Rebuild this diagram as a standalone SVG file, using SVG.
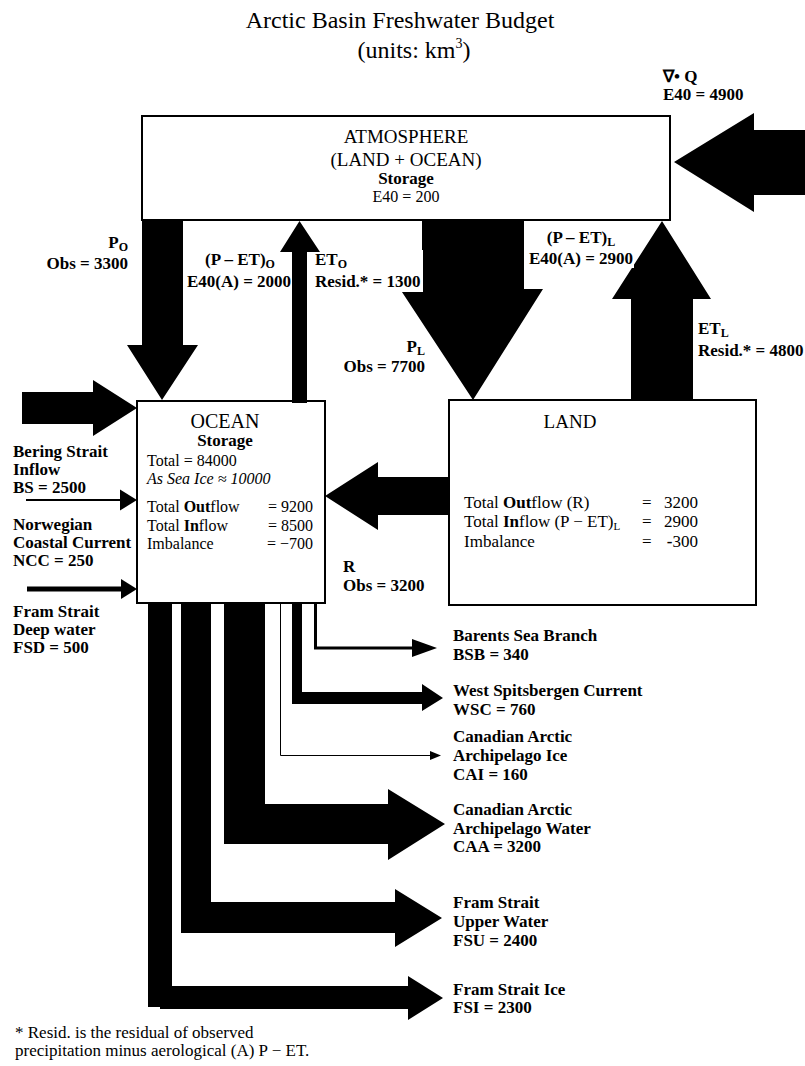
<svg xmlns="http://www.w3.org/2000/svg" width="805" height="1066" viewBox="0 0 805 1066">
<style>
.t{font-family:"Liberation Serif","Times New Roman",serif;fill:#000}
.b{font-family:"Liberation Serif","Times New Roman",serif;font-weight:bold;font-size:17px;fill:#000}
.n{font-family:"Liberation Serif","Times New Roman",serif;font-size:16px;fill:#000}
.n17{font-size:17px}
.box{fill:#fff;stroke:#000;stroke-width:2}
.ar{fill:#000;stroke:none}
.ln{fill:none;stroke:#000}
.bg{fill:#fff}
</style>
<rect width="805" height="1066" fill="#fff"/>
<g id="title">
<text class="t" x="400" y="28" font-size="24" text-anchor="middle">Arctic Basin Freshwater Budget</text>
<text class="t" x="414" y="58" font-size="24" text-anchor="middle">(units: km<tspan font-size="14" dy="-10">3</tspan><tspan dy="10">)</tspan></text>
</g>
<g id="atmosphere">
<rect class="box" x="142" y="116" width="528" height="104"/>
<text class="t" x="406" y="143" font-size="19" text-anchor="middle">ATMOSPHERE</text>
<text class="t" x="406" y="166" font-size="19" text-anchor="middle">(LAND + OCEAN)</text>
<text class="b" x="406" y="184" text-anchor="middle">Storage</text>
<text class="n" x="406" y="202" text-anchor="middle">E40 = 200</text>
</g>
<g id="ocean">
<rect class="box" x="137" y="401" width="188" height="202"/>
<text class="t" x="225" y="428" font-size="20" text-anchor="middle">OCEAN</text>
<text class="b" x="225" y="446" text-anchor="middle">Storage</text>
<text class="n" x="147" y="466">Total = 84000</text>
<text class="n" x="147" y="484" font-style="italic">As Sea Ice ≈ 10000</text>
<text class="n" x="147" y="512">Total <tspan font-weight="bold">Out</tspan>flow</text>
<text class="n" x="313" y="512" text-anchor="end">= 9200</text>
<text class="n" x="147" y="531">Total <tspan font-weight="bold">In</tspan>flow</text>
<text class="n" x="313" y="531" text-anchor="end">= 8500</text>
<text class="n" x="147" y="549">Imbalance</text>
<text class="n" x="313" y="549" text-anchor="end">= −700</text>
</g>
<g id="land">
<rect class="box" x="449" y="400" width="307" height="205"/>
<text class="t" x="570" y="428" font-size="19" text-anchor="middle">LAND</text>
<text class="n n17" x="464" y="508">Total <tspan font-weight="bold">Out</tspan>flow (R)</text>
<text class="n n17" x="642" y="508">=</text>
<text class="n n17" x="698" y="508" text-anchor="end">3200</text>
<text class="n n17" x="464" y="527">Total <tspan font-weight="bold">In</tspan>flow (P − ET)<tspan font-size="11" dy="3">L</tspan></text>
<text class="n n17" x="642" y="527">=</text>
<text class="n n17" x="698" y="527" text-anchor="end">2900</text>
<text class="n n17" x="464" y="547">Imbalance</text>
<text class="n n17" x="642" y="547">=</text>
<text class="n n17" x="698" y="547" text-anchor="end"><tspan font-weight="bold">-</tspan>300</text>
</g>
<g id="connectors">
<polygon id="arrow-PO" class="ar" points="142,220 183,220 183,345 198,345 162,400 127,345 142,345"/>
<polygon id="arrow-PL" class="ar" points="422,220 524,220 524,289 543,289 473,400 400,289 422,289"/>
<polygon id="arrow-ETL" class="ar" points="631,401 693,401 693,299 711,299 662,221 612,299 631,299"/>
<polygon id="arrow-divQ" class="ar" points="805,130 754,130 754,113 674,162 754,212 754,195 805,195"/>
<polygon id="arrow-inflow" class="ar" points="22,392 93,392 93,380 137,408 93,436 93,424 22,424"/>
<polygon id="arrow-R" class="ar" points="449,477 378,477 378,462 325,496 378,530 378,515 449,515"/>
<line id="arrow-BS" class="ln" x1="26" y1="500" x2="122" y2="500" stroke-width="2"/>
<polygon class="ar" points="120,489.5 137,500 120,510.5"/>
<line id="arrow-NCC" class="ln" x1="27" y1="589" x2="123" y2="589" stroke-width="5"/>
<polygon class="ar" points="121,579 137,589 121,599"/>
<polyline id="arrow-BSB" class="ln" points="315.5,603 315.5,648 414,648" stroke-width="3"/>
<polygon class="ar" points="412,639 437,648 412,657"/>
<polygon id="arrow-WSC" class="ar" points="292,603 302,603 302,692 422,692 422,684 443,698 422,711 422,704 292,704"/>
<polyline id="arrow-CAI" class="ln" points="280.5,603 280.5,755.5 432,755.5" stroke-width="1"/>
<polygon class="ar" points="430,751 441,755.5 430,760"/>
<polygon id="arrow-CAA" class="ar" points="224,603 265,603 265,804 388,804 388,789 445,824 388,860 388,844 224,844"/>
<polygon id="arrow-FSU" class="ar" points="181,603 211,603 211,902 395,902 395,889 442,918 395,947 395,933 181,933"/>
<polygon id="arrow-FSI" class="ar" points="148,603 172,603 172,986 408,986 408,976 443,998 408,1020 408,1009 160,1009 160,1007 148,1007"/>
<g id="labels">
<text class="b" x="128" y="248" text-anchor="end">P<tspan font-size="12" dy="3">O</tspan></text>
<text class="b" x="128" y="269" text-anchor="end">Obs = 3300</text>
<text class="b" x="240" y="265" text-anchor="middle">(P – ET)<tspan font-size="12" dy="3">O</tspan></text>
<text class="b" x="239" y="287" text-anchor="middle">E40(A) = 2000</text>
<rect class="bg" x="313" y="250" width="110" height="42"/>
<text class="b" x="315" y="265">ET<tspan font-size="12" dy="3">O</tspan></text>
<text class="b" x="315" y="287">Resid.* = 1300</text>
<rect class="bg" x="527" y="229" width="107" height="39"/>
<text class="b" x="581" y="243" text-anchor="middle">(P – ET)<tspan font-size="12" dy="3">L</tspan></text>
<text class="b" x="581" y="264" text-anchor="middle">E40(A) = 2900</text>
<text class="b" x="425" y="352" text-anchor="end">P<tspan font-size="12" dy="3">L</tspan></text>
<text class="b" x="425" y="372" text-anchor="end">Obs = 7700</text>
<text class="b" x="698" y="334">ET<tspan font-size="12" dy="3">L</tspan></text>
<text class="b" x="698" y="356">Resid.* = 4800</text>
<text class="b" x="663" y="82">∇• Q</text>
<text class="b" x="663" y="100">E40 = 4900</text>
<text class="b" x="343" y="572">R</text>
<text class="b" x="343" y="591">Obs = 3200</text>
<text class="b" x="13" y="457">Bering Strait</text>
<text class="b" x="13" y="475">Inflow</text>
<text class="b" x="13" y="493">BS = 2500</text>
<text class="b" x="13" y="530">Norwegian</text>
<text class="b" x="13" y="548">Coastal Current</text>
<text class="b" x="13" y="566">NCC = 250</text>
<text class="b" x="13" y="617">Fram Strait</text>
<text class="b" x="13" y="635">Deep water</text>
<text class="b" x="13" y="653">FSD = 500</text>
<text class="b" x="453" y="641">Barents Sea Branch</text>
<text class="b" x="453" y="660">BSB = 340</text>
<text class="b" x="453" y="696">West Spitsbergen Current</text>
<text class="b" x="453" y="715">WSC = 760</text>
<text class="b" x="453" y="742">Canadian Arctic</text>
<text class="b" x="453" y="761">Archipelago Ice</text>
<text class="b" x="453" y="780">CAI = 160</text>
<text class="b" x="453" y="815">Canadian Arctic</text>
<text class="b" x="453" y="834">Archipelago Water</text>
<text class="b" x="453" y="852">CAA = 3200</text>
<text class="b" x="453" y="908">Fram Strait</text>
<text class="b" x="453" y="927">Upper Water</text>
<text class="b" x="453" y="946">FSU = 2400</text>
<text class="b" x="453" y="995">Fram Strait Ice</text>
<text class="b" x="453" y="1013">FSI = 2300</text>
</g>
<polygon id="arrow-ETO" class="ar" points="292,403 307,403 307,252 320,252 299.5,221 280,252 292,252"/>
</g>
<g id="footnote">
<text class="n n17" x="15" y="1038">* Resid. is the residual of observed</text>
<text class="n n17" x="15" y="1056">precipitation minus aerological (A) P − ET.</text>
</g>
</svg>
